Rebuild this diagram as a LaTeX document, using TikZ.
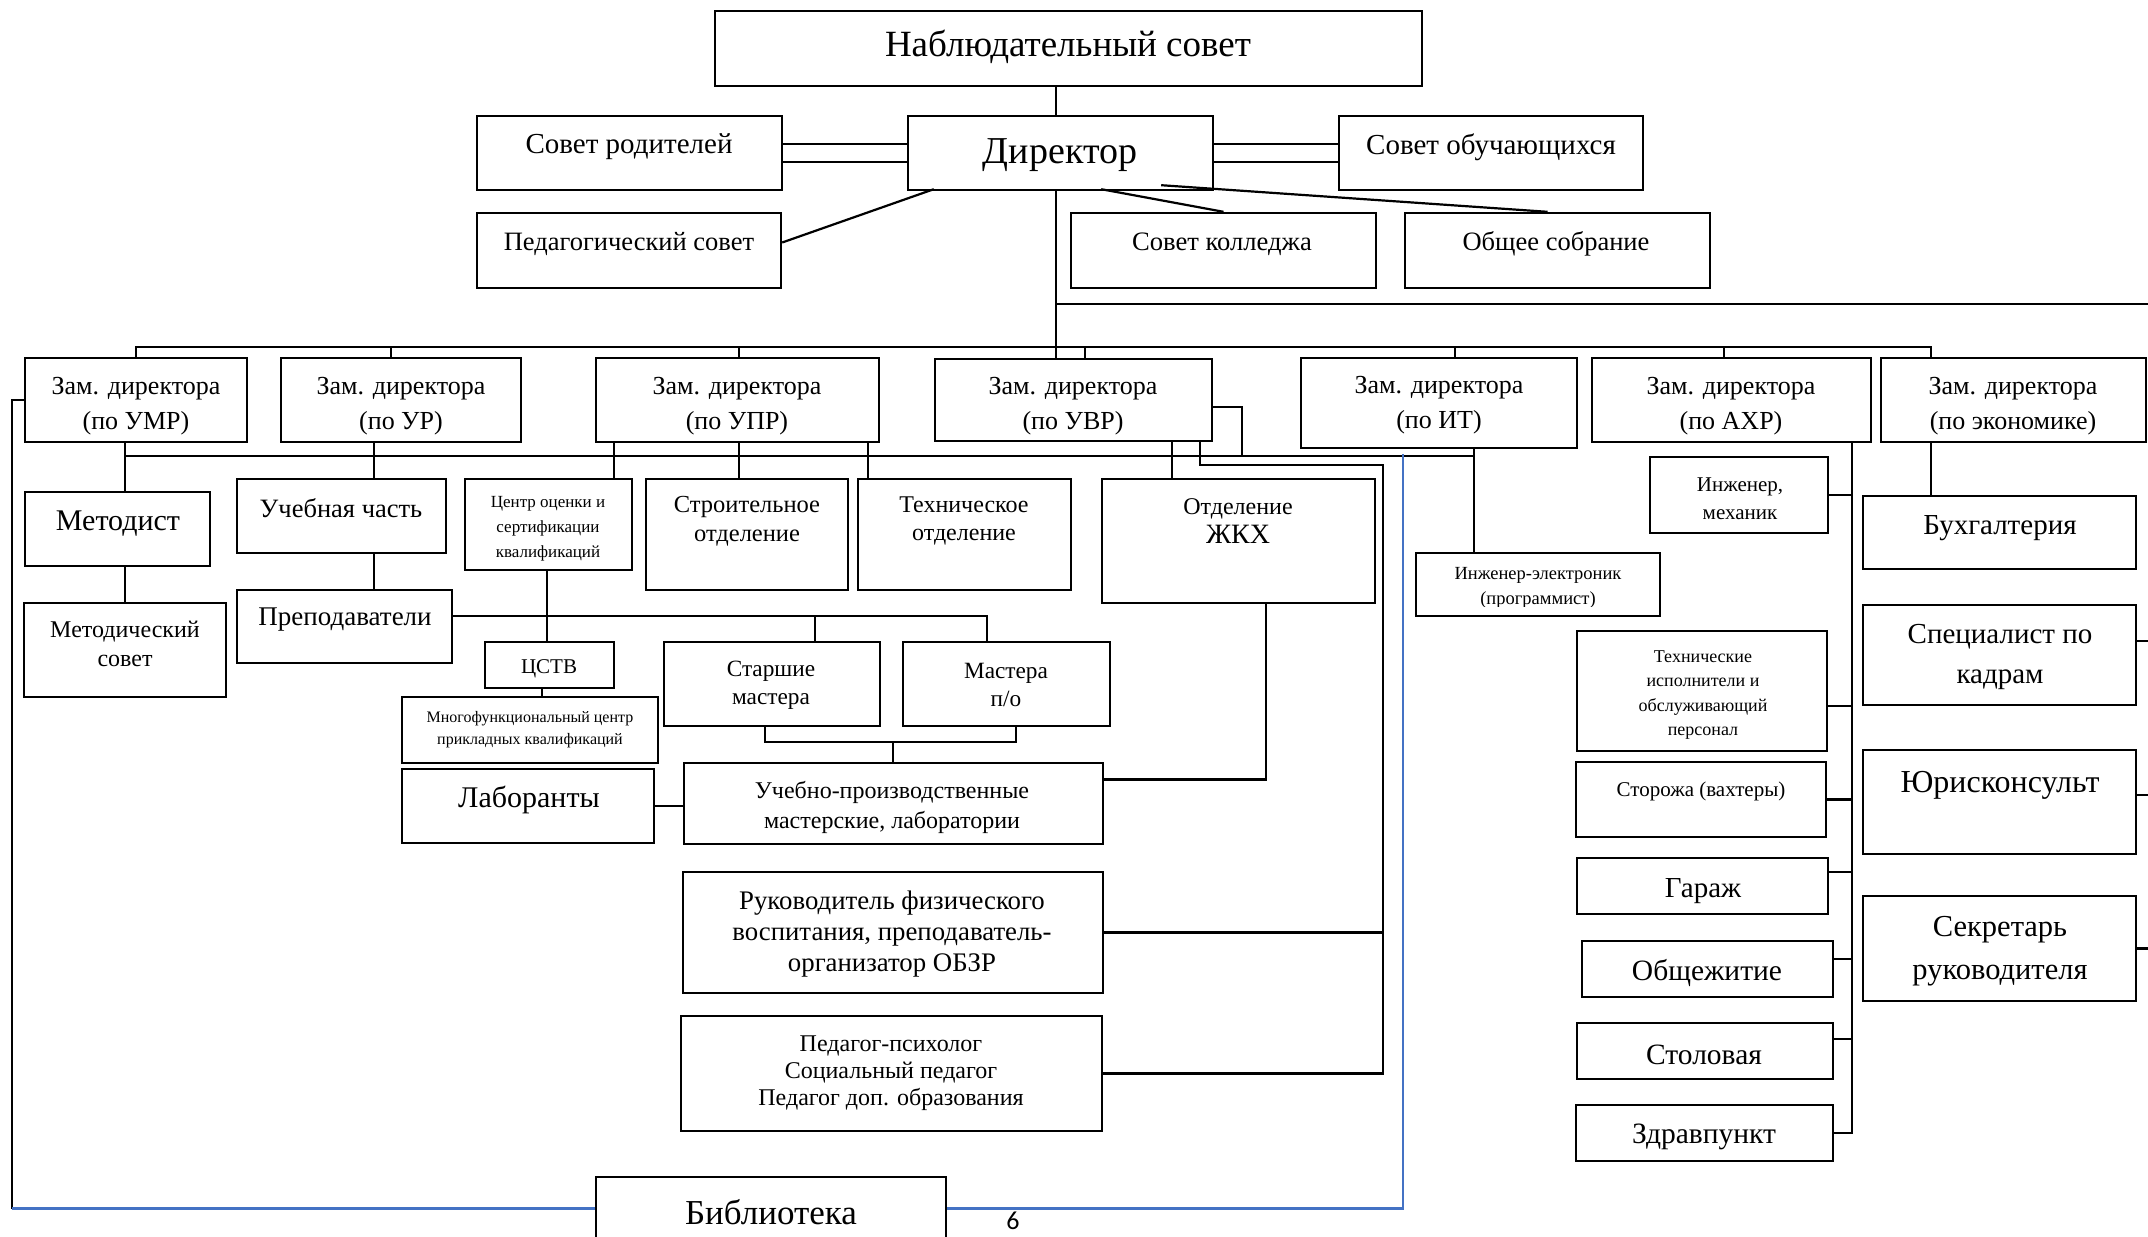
\documentclass[tikz,border=0pt]{standalone}
\usepackage{fontspec}
\setmainfont{Liberation Serif}
\newfontfamily\pgnum{Carlito}
\definecolor{wblue}{RGB}{68,114,196}
\newcommand\bx[5]{%
  \pgfmathsetmacro\bxw{#4-#2}%
  \pgfmathsetmacro\bxh{#5-#3}%
  \pgfmathsetmacro\bxx{(#2+#4)/2}%
  \pgfmathsetmacro\bxy{(#3+#5)/2}%
  \node[box, minimum width=\bxw pt, minimum height=\bxh pt] (#1) at (\bxx,\bxy) {};}
\newcommand\tx[6]{\node[txt,font={\fontsize{#4}{#5}\selectfont}] (#1) at (#2,#3) {#6};}
\begin{document}
\begin{tikzpicture}[x=1pt,y=-1pt,
  box/.style={draw, line width=2.4pt, inner sep=0pt},
  ln/.style={line width=2.2pt},
  bl/.style={line width=2.2pt, draw=wblue},
  txt/.style={inner sep=0pt, align=center, yshift=-3pt}]
\useasboundingbox (0,0) rectangle (2148,1237);
\clip (0,0) rectangle (2148,1237);
\fill[white] (0,0) rectangle (2148,1237);

% helper coordinates
\coordinate (trunk) at (1056,0);
\coordinate (dl1) at (0,144);
\coordinate (dl2) at (0,162);
\coordinate (r304) at (2148,304);
\coordinate (bus1) at (0,347);
\coordinate (bus2) at (0,456);
\coordinate (y465) at (0,465);
\coordinate (y616) at (0,616);
\coordinate (y742) at (0,742);
\coordinate (x125) at (125,0);
\coordinate (x374) at (374,0);
\coordinate (x391) at (391,0);
\coordinate (x739) at (739,0);
\coordinate (x1085) at (1085,0);
\coordinate (x1455) at (1455,0);
\coordinate (x1724) at (1724,0);
\coordinate (x1931) at (1931,0);
\coordinate (x1474) at (1474,0);
\coordinate (x614) at (614,0);
\coordinate (x868) at (868,0);
\coordinate (x1172) at (1172,0);
\coordinate (x1200) at (1200,0);
\coordinate (x1242) at (1242,0);
\coordinate (x1383) at (1383,0);
\coordinate (x547) at (547,0);
\coordinate (x542) at (542,0);
\coordinate (x765) at (765,0);
\coordinate (x815) at (815,0);
\coordinate (x893) at (893,0);
\coordinate (x987) at (987,0);
\coordinate (x1016) at (1016,0);
\coordinate (x1266) at (1266,0);
\coordinate (x1852) at (1852,0);
\coordinate (xr) at (2148,0);
\coordinate (x12) at (12,0);
\coordinate (x1403) at (1403,0);
\coordinate (y1208) at (0,1208.5);

% boxes
\bx{nab}{715}{11}{1422}{86}
\bx{dir}{908}{116}{1213}{190}
\bx{sr}{477}{116}{782}{190}
\bx{ps}{477}{213}{781}{288}
\bx{so}{1339}{116}{1643}{190}
\bx{sk}{1071}{213}{1376}{288}
\bx{os}{1405}{213}{1710}{288}
\bx{umr}{25}{358}{247}{442}
\bx{ur}{281}{358}{521}{442}
\bx{upr}{596}{358}{879}{442}
\bx{uvr}{935}{359}{1212}{441}
\bx{it}{1301}{358}{1577}{448}
\bx{ahr}{1592}{358}{1871}{442}
\bx{eco}{1881}{358}{2146}{442}
\bx{met}{25}{492}{210}{566}
\bx{msov}{24}{603}{226}{697}
\bx{uch}{237}{479}{446}{553}
\bx{prep}{237}{590}{452}{663}
\bx{coc}{465}{479}{632}{570}
\bx{str}{646}{479}{848}{590}
\bx{teh}{858}{479}{1071}{590}
\bx{zhkh}{1102}{479}{1375}{603}
\bx{cstv}{485}{642}{614}{688}
\bx{mfc}{402}{697}{658}{763}
\bx{lab}{402}{769}{654}{843}
\bx{sm}{664}{642}{880}{726}
\bx{mpo}{903}{642}{1110}{726}
\bx{upm}{684}{763}{1103}{844}
\bx{rfv}{683}{872}{1103}{993}
\bx{ped}{681}{1016}{1102}{1131}
\bx{bib}{596}{1177}{946}{1240}
\bx{iel}{1416}{553}{1660}{616}
\bx{im}{1650}{457}{1828}{533}
\bx{tio}{1577}{631}{1827}{751}
\bx{stor}{1576}{762}{1826}{837}
\bx{gar}{1577}{858}{1828}{914}
\bx{obsh}{1582}{941}{1833}{997}
\bx{stol}{1577}{1023}{1833}{1079}
\bx{zdr}{1576}{1105}{1833}{1161}
\bx{buh}{1863}{496}{2136}{569}
\bx{kadr}{1863}{605}{2136}{705}
\bx{jur}{1863}{750}{2136}{854}
\bx{sekr}{1863}{896}{2136}{1001}

% texts
\tx{nab-t}{1068}{44}{37}{42}{Наблюдательный совет}
\tx{dir-t}{1060}{152}{38}{44}{Директор}
\tx{sr-t}{629}{144}{29}{32}{Совет родителей}
\tx{ps-t}{629}{241}{26.5}{30}{Педагогический совет}
\tx{so-t}{1491}{144}{29}{32}{Совет обучающихся}
\tx{sk-t}{1222}{241}{26.6}{30}{Совет колледжа}
\tx{os-t}{1556}{241}{26.5}{30}{Общее собрание}
\tx{umr-t}{136}{403}{26}{35}{Зам. директора\\(по УМР)}
\tx{ur-t}{401}{403}{26}{35}{Зам. директора\\(по УР)}
\tx{upr-t}{737}{403}{26}{35}{Зам. директора\\(по УПР)}
\tx{uvr-t}{1073}{403}{26}{35}{Зам. директора\\(по УВР)}
\tx{it-t}{1439}{402}{26}{35}{Зам. директора\\(по ИТ)}
\tx{ahr-t}{1731}{403}{26}{35}{Зам. директора\\(по АХР)}
\tx{eco-t}{2013}{403}{26}{35}{Зам. директора\\(по экономике)}
\tx{met-t}{118}{521}{30}{34}{Методист}
\tx{msov-t}{125}{641}{24}{29}{Методический\\совет}
\tx{uch-t}{341}{505}{26.5}{30}{Учебная часть}
\tx{prep-t}{345}{617}{27}{31}{Преподаватели}
\tx{coc-t}{548}{526}{17}{25}{Центр оценки и\\сертификации\\квалификаций}
\tx{str-t}{747}{518}{24.5}{29}{Строительное\\отделение}
\tx{teh-t}{964}{518}{24}{28}{Техническое\\отделение}
\tx{zhkh-t}{1238}{518}{24}{29}{Отделение\\{\fontsize{28}{29}\selectfont ЖКХ}}
\tx{cstv-t}{549}{666}{21}{25}{ЦСТВ}
\tx{mfc-t}{530}{727}{16}{22}{Многофункциональный центр\\прикладных квалификаций}
\tx{sm-t}{771}{682}{23.3}{28}{Старшие\\мастера}
\tx{mpo-t}{1006}{682}{23.3}{28}{Мастера\\п/о}
\tx{lab-t}{529}{797}{30}{34}{Лаборанты}
\tx{upm-t}{892}{804}{24}{30}{Учебно-производственные\\мастерские, лаборатории}
\tx{rfv-t}{892}{931}{26.8}{31}{Руководитель физического\\воспитания, преподаватель-\\организатор ОБЗР}
\tx{ped-t}{891}{1070}{24}{27}{Педагог-психолог\\Социальный педагог\\Педагог доп. образования}
\tx{bib-t}{771}{1209}{35}{40}{Библиотека}
\begin{scope}
\clip (1416,553) rectangle (1660,606);
\tx{iel-t}{1538}{585}{18.5}{25}{Инженер-электроник\\(программист)}
\end{scope}
\tx{im-t}{1740}{496}{21}{28}{Инженер,\\механик}
\tx{tio-t}{1703}{692}{18}{24.5}{Технические\\исполнители и\\обслуживающий\\персонал}
\tx{stor-t}{1701}{788}{21}{25}{Сторожа (вахтеры)}
\tx{gar-t}{1703}{888}{29}{32}{Гараж}
\tx{obsh-t}{1707}{970}{29.5}{32}{Общежитие}
\tx{stol-t}{1704}{1052}{29.5}{32}{Столовая}
\tx{zdr-t}{1704}{1134}{29.5}{32}{Здравпункт}
\tx{buh-t}{2000}{525}{29}{33}{Бухгалтерия}
\tx{kadr-t}{2000}{654}{29}{40}{Специалист по\\кадрам}
\tx{jur-t}{2000}{782}{32}{34}{Юрисконсульт}
\tx{sekr-t}{2000}{948}{30.5}{43}{Секретарь\\руководителя}
\node[txt, font={\pgnum\fontsize{26}{30}\selectfont}] (pg) at (1013,1218) {6};

% connectors: top
\draw[ln] (trunk |- nab.south) -- (trunk |- dir.north);
\draw[ln] (sr.east |- dl1) -- (dir.west |- dl1);
\draw[ln] (sr.east |- dl2) -- (dir.west |- dl2);
\draw[ln] (dir.east |- dl1) -- (so.west |- dl1);
\draw[ln] (dir.east |- dl2) -- (so.west |- dl2);
\draw[ln] ([yshift=8pt]ps.east) -- ([xshift=27pt,yshift=2pt]dir.south west);
\draw[ln] ([xshift=-113pt,yshift=2pt]dir.south east) -- (sk.north);
\draw[ln] ([xshift=-53pt,yshift=6pt]dir.south east) -- ([xshift=-10pt]os.north);
\draw[ln] (trunk |- dir.south) -- (trunk |- uvr.north);
\draw[ln] (trunk |- r304) -- (r304);

% zam bus
\draw[ln] (umr.north) -- (umr.north |- bus1) -- (x1931 |- bus1) -- (x1931 |- eco.north);
\draw[ln] (x391 |- bus1) -- (x391 |- ur.north);
\draw[ln] (x739 |- bus1) -- (x739 |- upr.north);
\draw[ln] (x1085 |- bus1) -- (x1085 |- uvr.north);
\draw[ln] (x1455 |- bus1) -- (x1455 |- it.north);
\draw[ln] (x1724 |- bus1) -- (x1724 |- ahr.north);

% second bus
\draw[ln] (x125 |- bus2) -- (x1474 |- bus2);
\draw[ln] (x1474 |- it.south) -- (x1474 |- iel.north);
\draw[ln] (x125 |- umr.south) -- (x125 |- met.north);
\draw[ln] (x125 |- met.south) -- (x125 |- msov.north);
\draw[ln] (x374 |- ur.south) -- (x374 |- uch.north);
\draw[ln] (x374 |- uch.south) -- (x374 |- prep.north);
\draw[ln] (x614 |- upr.south) -- (x614 |- coc.north);
\draw[ln] (x739 |- upr.south) -- (x739 |- str.north);
\draw[ln] (x868 |- upr.south) -- (x868 |- teh.north);
\draw[ln] (x1172 |- uvr.south) -- (x1172 |- zhkh.north);
\draw[ln] ([yshift=-7pt]uvr.east) -| (x1242 |- bus2);
\draw[ln] (x1200 |- uvr.south) |- (x1383 |- y465) -- (x1383 |- ped.east) -- (ped.east);
\draw[ln] (rfv.east) -- (x1383 |- rfv.east);

% middle
\draw[ln] (x547 |- coc.south) -- (x547 |- cstv.north);
\draw[ln] (x542 |- cstv.south) -- (x542 |- mfc.north);
\draw[ln] (prep.east |- y616) -- (x987 |- y616) -- (x987 |- mpo.north);
\draw[ln] (x815 |- y616) -- (x815 |- sm.north);
\draw[ln] (x765 |- sm.south) |- (x1016 |- y742) -- (x1016 |- mpo.south);
\draw[ln] (x893 |- y742) -- (x893 |- upm.north);
\draw[ln] (lab.east) -- (lab.east -| upm.west);
\draw[ln] ([yshift=24pt]upm.east) -| (x1266 |- zhkh.south);

% AHR column
\draw[ln] (x1852 |- ahr.south) -- (x1852 |- zdr.east) -- (zdr.east);
\draw[ln] (im.east) -- (im.east -| x1852);
\draw[ln] ([yshift=-15pt]tio.east) -- ([yshift=-15pt]tio.east -| x1852);
\draw[ln] (stor.east) -- (stor.east -| x1852);
\draw[ln] ([yshift=14pt]gar.east) -- ([yshift=14pt]gar.east -| x1852);
\draw[ln] ([yshift=10pt]obsh.east) -- ([yshift=10pt]obsh.east -| x1852);
\draw[ln] ([yshift=12pt]stol.east) -- ([yshift=12pt]stol.east -| x1852);

% economics column
\draw[ln] (x1931 |- eco.south) -- (x1931 |- buh.north);
\draw[ln] ([yshift=14pt]kadr.east) -- ([yshift=14pt]kadr.east -| xr);
\draw[ln] ([yshift=7pt]jur.east) -- ([yshift=7pt]jur.east -| xr);
\draw[ln] (sekr.east) -- (sekr.east -| xr);

% library loop
\draw[ln] (umr.west) -- (x12 |- umr.west) -- (x12 |- y1208);
\draw[bl] (x12 |- y1208) -- (bib.west);
\draw[bl] (bib.east) -- (x1403 |- bib.east) -- ([yshift=2pt]x1403 |- bus2);
\end{tikzpicture}
\end{document}
